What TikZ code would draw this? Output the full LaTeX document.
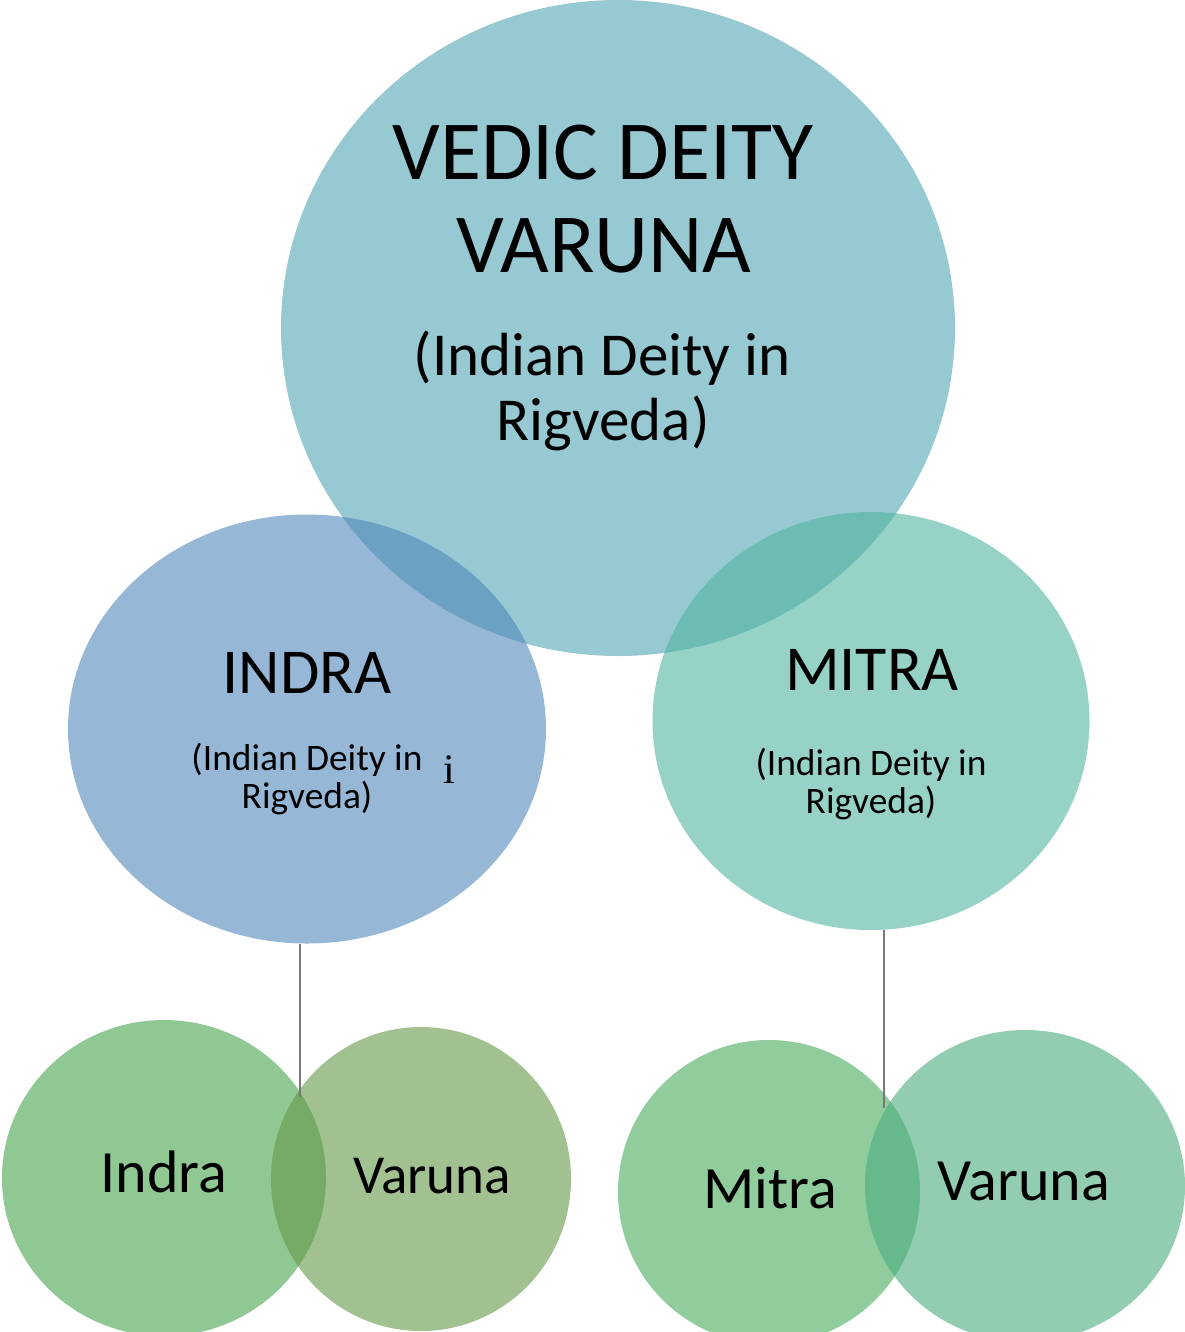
\documentclass[tikz,border=0pt]{standalone}
\usepackage{fontspec}
\setmainfont{Carlito}
\newfontfamily\serifface{Liberation Serif}
\usetikzlibrary{shapes.geometric}
\definecolor{varunaTeal}{RGB}{82,165,182}
\definecolor{indraBlue}{RGB}{80,135,187}
\definecolor{mitraGreen}{RGB}{80,180,160}
\definecolor{leafGreen}{RGB}{70,163,75}
\definecolor{oliveGreen}{RGB}{100,152,70}
\definecolor{grassGreen}{RGB}{70,170,90}
\definecolor{seaGreen}{RGB}{73,172,127}
\definecolor{stemGray}{RGB}{120,120,120}

\begin{document}
\begin{tikzpicture}[x=0.5pt, y=-0.5pt,
    bubble/.style={ellipse, draw=none, fill opacity=0.6, inner sep=0pt},
    huge/.style={anchor=base, font=\fontsize{42}{46}\selectfont},
    mid/.style={anchor=base, font=\fontsize{30.5}{34}\selectfont},
    head/.style={anchor=base, font=\fontsize{32}{36}\selectfont},
    small/.style={anchor=base, font=\fontsize{18.7}{21}\selectfont},
    word/.style={anchor=base, font=\fontsize{30}{34}\selectfont},
    line/.style={draw=stemGray, line width=1.2pt}]

    \useasboundingbox (0,0) rectangle (1184,1332);

    % circles
    \node [bubble, fill=varunaTeal, minimum width=337pt, minimum height=328pt] (varuna) at (618,328) {};
    \node [bubble, fill=indraBlue, minimum width=239pt, minimum height=214.5pt] (indra) at (307,729) {};
    \node [bubble, fill=mitraGreen, minimum width=218.5pt, minimum height=209pt] (mitra) at (871,721) {};
    \node [bubble, fill=leafGreen, minimum width=162pt, minimum height=158pt] (indraL) at (164,1178) {};
    \node [bubble, fill=oliveGreen, minimum width=150pt, minimum height=152pt] (varunaL) at (421,1179) {};
    \node [bubble, fill=grassGreen, minimum width=151pt, minimum height=152pt] (mitraR) at (769,1192) {};
    \node [bubble, fill=seaGreen, minimum width=160pt, minimum height=156pt] (varunaR) at (1025,1186) {};

    % texts
    \node [huge] (t1) at (603,180) {VEDIC DEITY};
    \node [huge] (t2) at (604,272) {VARUNA};
    \node [mid] (t3) at (602,375) {(Indian Deity in};
    \node [mid] (t4) at (603,440) {Rigveda)};

    \node [head] (h1) at (307,693) {INDRA};
    \node [small] (h2) at (307,770) {(Indian Deity in};
    \node [small] (h3) at (307,808) {Rigveda)};
    \node [anchor=base, font=\serifface\fontsize{21}{24}\selectfont] (h4) at (449,783) {i};

    \node [head] (m1) at (872,690) {MITRA};
    \node [small] (m2) at (871,775) {(Indian Deity in};
    \node [small] (m3) at (871,813) {Rigveda)};

    \node [word] (w1) at (164,1192) {Indra};
    \node [word, font=\fontsize{27.5}{31}\selectfont] (w2) at (432,1193) {Varuna};
    \node [word] (w3) at (770,1208) {Mitra};
    \node [word] (w4) at (1024,1200) {Varuna};

    % stems
    \coordinate (jl) at (300,1097);
    \coordinate (jr) at (884,1108);
    \path [line] (jl |- indra.south) -- (jl);
    \path [line] (jr |- mitra.south) -- (jr);
\end{tikzpicture}
\end{document}
